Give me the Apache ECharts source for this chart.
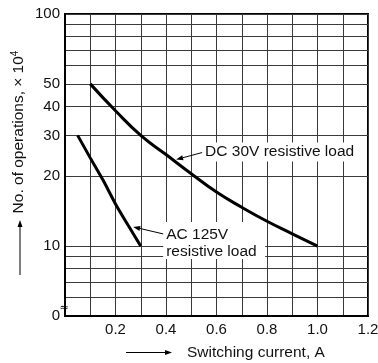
<!DOCTYPE html>
<html>
<head>
<meta charset="utf-8">
<script src="https://cdn.jsdelivr.net/npm/echarts@6/dist/echarts.min.js"></script>
<style>
  html, body { margin: 0; padding: 0; background: #fff; }
  #chart { width: 378px; height: 363px; }
</style>
</head>
<body>
<div id="chart"></div>
<script>
// DC 30V resistive load curve
const dcCurrent = [0.1, 0.2, 0.3, 0.4, 0.5, 0.6, 0.7, 0.8, 0.9, 1.0];
const dcOps = [50, 38.3, 30, 24.8, 20.5, 17.1, 14.7, 12.8, 11.3, 10];
// AC 125V resistive load curve
const acCurrent = [0.05, 0.1, 0.15, 0.2, 0.25, 0.3];
const acOps = [30, 24, 19.3, 15.2, 12.3, 10];

// axis labels / grid positions (operations x 10^4, bottom "0" is the broken axis at 5)
const yLabelVals = [5, 10, 20, 30, 40, 50, 100];
const yGridVals = [5, 6, 7, 8, 9, 10, 20, 30, 40, 50, 60, 70, 80, 90, 100];
const xLabelVals = [0.2, 0.4, 0.6, 0.8, 1.0, 1.2];

const FONT = "'Liberation Sans', Arial, Helvetica, sans-serif";
const lg = (v) => Math.log10(v);

const chart = echarts.init(document.getElementById("chart"));

const toPairs = (xs, ys) => xs.map((x, i) => [x, lg(ys[i])]);

chart.setOption({
  animation: false,
  grid: {
    left: 65, right: 10, top: 14, bottom: 47,
    show: true, borderColor: "#000", borderWidth: 2,
    outerBoundsMode: "none"
  },
  xAxis: {
    type: "value", min: 0, max: 1.2, interval: 0.1,
    axisLine: { show: true, lineStyle: { color: "#000", width: 2 } },
    axisTick: { show: false },
    splitLine: { show: true, lineStyle: { color: "#3a3a3a", width: 1 } },
    axisLabel: {
      customValues: xLabelVals,
      formatter: (v) => v.toFixed(1),
      color: "#111", fontSize: 15, fontFamily: FONT, margin: 6
    }
  },
  yAxis: {
    type: "value", min: lg(5), max: 2,
    axisLine: { show: true, lineStyle: { color: "#000", width: 2 } },
    axisTick: { show: false, customValues: yGridVals.map(lg) },
    splitLine: { show: true, lineStyle: { color: "#3a3a3a", width: 1 } },
    axisLabel: {
      customValues: yLabelVals.map(lg),
      formatter: (v) => {
        const r = Math.round(Math.pow(10, v));
        return r === 5 ? "0" : String(r);
      },
      color: "#111", fontSize: 15, fontFamily: FONT, margin: 5
    }
  },
  series: [
    {
      name: "DC 30V resistive load", type: "line", smooth: 0.5,
      showSymbol: false, data: toPairs(dcCurrent, dcOps),
      lineStyle: { color: "#000", width: 3 }, z: 5
    },
    {
      name: "AC 125V resistive load", type: "line", smooth: 0.3,
      showSymbol: false, data: toPairs(acCurrent, acOps),
      lineStyle: { color: "#000", width: 3 }, z: 5
    }
  ]
});

// helpers for arrows
function arrow(x1, y1, x2, y2) {
  // line from (x1,y1) to head at (x2,y2)
  const a = Math.atan2(y2 - y1, x2 - x1);
  const len = 7, w = 2.5;
  const bx = x2 - len * Math.cos(a), by = y2 - len * Math.sin(a);
  const px = -Math.sin(a) * w, py = Math.cos(a) * w;
  return [
    { type: "line", z: 20, shape: { x1: x1, y1: y1, x2: bx, y2: by },
      style: { stroke: "#000", lineWidth: 1 } },
    { type: "polygon", z: 20,
      shape: { points: [[x2, y2], [bx + px, by + py], [bx - px, by - py]] },
      style: { fill: "#000" } }
  ];
}

const px = (x, y) => chart.convertToPixel({ gridIndex: 0 }, [x, lg(y)]);
const dcTip = px(0.44, 23.6);
const acTip = px(0.27, 12.1);
const brk = px(0, 5);

const txt = (x, y, text, extra) => Object.assign({
  type: "text", z: 30,
  style: { x: x, y: y, text: text, font: "15.5px " + FONT, fill: "#111",
           align: "left", verticalAlign: "middle" }
}, extra || {});

const graphics = [
  // DC label
  { type: "rect", z: 15, shape: { x: dcTip[0] + 27, y: dcTip[1] - 17, width: 158, height: 19 },
    style: { fill: "#fff" } },
  txt(dcTip[0] + 29, dcTip[1] - 7.5, "DC 30V resistive load"),
  ...arrow(dcTip[0] + 26, dcTip[1] - 7, dcTip[0], dcTip[1]),
  // AC label
  { type: "rect", z: 15, shape: { x: acTip[0] + 30, y: acTip[1] - 5, width: 102, height: 37 },
    style: { fill: "#fff" } },
  txt(acTip[0] + 33, acTip[1] + 7.5, "AC 125V"),
  txt(acTip[0] + 33, acTip[1] + 24.5, "resistive load"),
  ...arrow(acTip[0] + 30, acTip[1] + 7, acTip[0], acTip[1]),
  // axis break mark
  { type: "text", z: 30, style: { x: brk[0] - 1, y: brk[1] - 8, text: "≈",
    font: "11px 'DejaVu Sans', sans-serif", fill: "#000", align: "center", verticalAlign: "middle" } },
  // y axis title
  { type: "text", z: 30, x: 19, y: 132, rotation: Math.PI / 2,
    style: { x: 0, y: 0, text: "No. of operations, × 10{s|4}",
      font: "15.5px " + FONT, fill: "#111", align: "center", verticalAlign: "middle",
      rich: { s: { fontSize: 10, fontFamily: FONT, verticalAlign: "top", padding: [0, 0, 8, 0] } } } },
  ...arrow(20, 275, 20, 220),
  // x axis title
  txt(187, 353, "Switching current, A"),
  ...arrow(126, 352.5, 172, 352.5)
];

chart.setOption({ graphic: graphics });
</script>
</body>
</html>
